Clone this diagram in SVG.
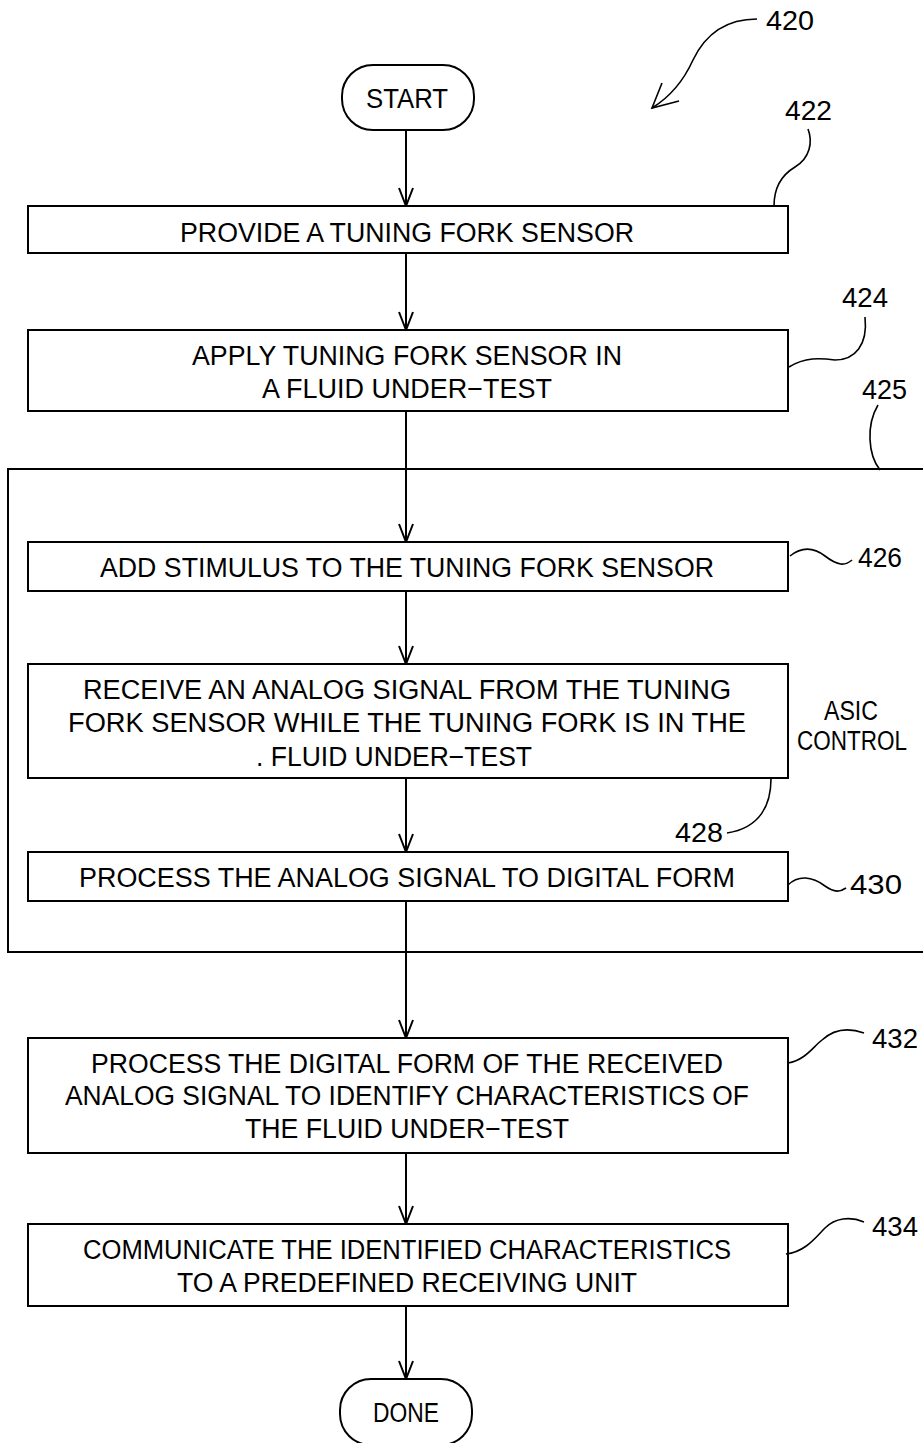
<svg xmlns="http://www.w3.org/2000/svg" width="923" height="1443" viewBox="0 0 923 1443">
<style>
.box{fill:#fff;stroke:#000;stroke-width:2}
.t{font-family:"Liberation Sans",Arial,sans-serif;font-size:27px;fill:#000;text-anchor:middle}
.ts{font-family:"Liberation Sans",Arial,sans-serif;font-size:27px;fill:#000}
.lbl{font-family:"Liberation Sans",Arial,sans-serif;font-size:27px;fill:#000}
.ld{fill:none;stroke:#000;stroke-width:1.6}
.cn{fill:none;stroke:#000;stroke-width:2;marker-end:url(#arr)}
</style>
<defs>
<marker id="arr" markerUnits="userSpaceOnUse" markerWidth="22" markerHeight="18" refX="19" refY="8" orient="auto" viewBox="0 0 22 16">
<path d="M1,1 L19,8 L1,15" fill="none" stroke="#000" stroke-width="2"/>
</marker>
</defs>
<rect width="923" height="1443" fill="#fff"/>

<g id="asic-control">
<path d="M923,469 H8 V952 H923" fill="none" stroke="#000" stroke-width="2"/>
<text class="lbl" x="824" y="720" textLength="54" lengthAdjust="spacingAndGlyphs">ASIC</text>
<text class="lbl" x="797" y="750" textLength="110" lengthAdjust="spacingAndGlyphs">CONTROL</text>
</g>

<g id="connectors">
<line class="cn" x1="406" y1="130" x2="406" y2="206"/>
<line class="cn" x1="406" y1="253" x2="406" y2="330"/>
<line class="cn" x1="406" y1="411" x2="406" y2="542"/>
<line class="cn" x1="406" y1="591" x2="406" y2="664"/>
<line class="cn" x1="406" y1="778" x2="406" y2="852"/>
<line class="cn" x1="406" y1="901" x2="406" y2="1038"/>
<line class="cn" x1="406" y1="1153" x2="406" y2="1224"/>
<line class="cn" x1="406" y1="1306" x2="406" y2="1379"/>
</g>

<g id="start">
<rect class="box" x="342" y="65" width="132" height="65" rx="31"/>
<text class="t" x="407" y="108" textLength="82" lengthAdjust="spacingAndGlyphs">START</text>
</g>

<g id="n422">
<rect class="box" x="28" y="206" width="760" height="47"/>
<text class="t" x="407" y="242" textLength="454" lengthAdjust="spacingAndGlyphs">PROVIDE A TUNING FORK SENSOR</text>
</g>

<g id="n424">
<rect class="box" x="28" y="330" width="760" height="81"/>
<text class="t" x="407" y="365" textLength="430" lengthAdjust="spacingAndGlyphs">APPLY TUNING FORK SENSOR IN</text>
<text class="t" x="407" y="398" textLength="290" lengthAdjust="spacingAndGlyphs">A FLUID UNDER−TEST</text>
</g>

<g id="n426">
<rect class="box" x="28" y="542" width="760" height="49"/>
<text class="t" x="407" y="577" textLength="614" lengthAdjust="spacingAndGlyphs">ADD STIMULUS TO THE TUNING FORK SENSOR</text>
</g>

<g id="n428">
<rect class="box" x="28" y="664" width="760" height="114"/>
<text class="t" x="407" y="699" textLength="648" lengthAdjust="spacingAndGlyphs">RECEIVE AN ANALOG SIGNAL FROM THE TUNING</text>
<text class="t" x="407" y="732" textLength="678" lengthAdjust="spacingAndGlyphs">FORK SENSOR WHILE THE TUNING FORK IS IN THE</text>
<text class="ts" x="256" y="766" textLength="276" lengthAdjust="spacingAndGlyphs">. FLUID UNDER−TEST</text>
</g>

<g id="n430">
<rect class="box" x="28" y="852" width="760" height="49"/>
<text class="t" x="407" y="887" textLength="656" lengthAdjust="spacingAndGlyphs">PROCESS THE ANALOG SIGNAL TO DIGITAL FORM</text>
</g>

<g id="n432">
<rect class="box" x="28" y="1038" width="760" height="115"/>
<text class="t" x="407" y="1073" textLength="632" lengthAdjust="spacingAndGlyphs">PROCESS THE DIGITAL FORM OF THE RECEIVED</text>
<text class="t" x="407" y="1105" textLength="684" lengthAdjust="spacingAndGlyphs">ANALOG SIGNAL TO IDENTIFY CHARACTERISTICS OF</text>
<text class="t" x="407" y="1138" textLength="324" lengthAdjust="spacingAndGlyphs">THE FLUID UNDER−TEST</text>
</g>

<g id="n434">
<rect class="box" x="28" y="1224" width="760" height="82"/>
<text class="t" x="407" y="1259" textLength="648" lengthAdjust="spacingAndGlyphs">COMMUNICATE THE IDENTIFIED CHARACTERISTICS</text>
<text class="t" x="407" y="1292" textLength="460" lengthAdjust="spacingAndGlyphs">TO A PREDEFINED RECEIVING UNIT</text>
</g>

<g id="done">
<rect class="box" x="340" y="1379" width="132" height="66" rx="31"/>
<text class="t" x="406" y="1422" textLength="66" lengthAdjust="spacingAndGlyphs">DONE</text>
</g>

<g id="labels">
<text class="lbl" x="766" y="30" textLength="48" lengthAdjust="spacingAndGlyphs">420</text>
<path class="ld" d="M757,19 C725,19 705,35 693,60 C683,82 670,97 652,108"/>
<path class="ld" d="M662,83 L652,108 L679,101"/>
<text class="lbl" x="785" y="120" textLength="47" lengthAdjust="spacingAndGlyphs">422</text>
<path class="ld" d="M774,206 C774,190 780,176 795,167 C810,158 813,142 808,129"/>
<text class="lbl" x="842" y="307" textLength="46" lengthAdjust="spacingAndGlyphs">424</text>
<path class="ld" d="M789,367 C805,357 820,358 835,360 C855,360 868,345 865,317"/>
<text class="lbl" x="862" y="399" textLength="45" lengthAdjust="spacingAndGlyphs">425</text>
<path class="ld" d="M878,405 C866,425 868,455 880,470"/>
<text class="lbl" x="858" y="567" textLength="44" lengthAdjust="spacingAndGlyphs">426</text>
<path class="ld" d="M790,556 C800,548 812,546 825,556 C838,566 845,566 852,560"/>
<text class="lbl" x="675" y="842" textLength="48" lengthAdjust="spacingAndGlyphs">428</text>
<path class="ld" d="M771,779 C771,805 760,828 727,833"/>
<text class="lbl" x="850" y="894" textLength="52" lengthAdjust="spacingAndGlyphs">430</text>
<path class="ld" d="M788,885 C798,875 812,876 825,886 C835,893 840,892 846,888"/>
<text class="lbl" x="872" y="1048" textLength="46" lengthAdjust="spacingAndGlyphs">432</text>
<path class="ld" d="M788,1063 C805,1060 812,1048 822,1040 C835,1028 850,1028 864,1033"/>
<text class="lbl" x="872" y="1236" textLength="46" lengthAdjust="spacingAndGlyphs">434</text>
<path class="ld" d="M786,1254 C805,1252 815,1238 825,1228 C835,1218 850,1216 864,1222"/>
</g>
</svg>
